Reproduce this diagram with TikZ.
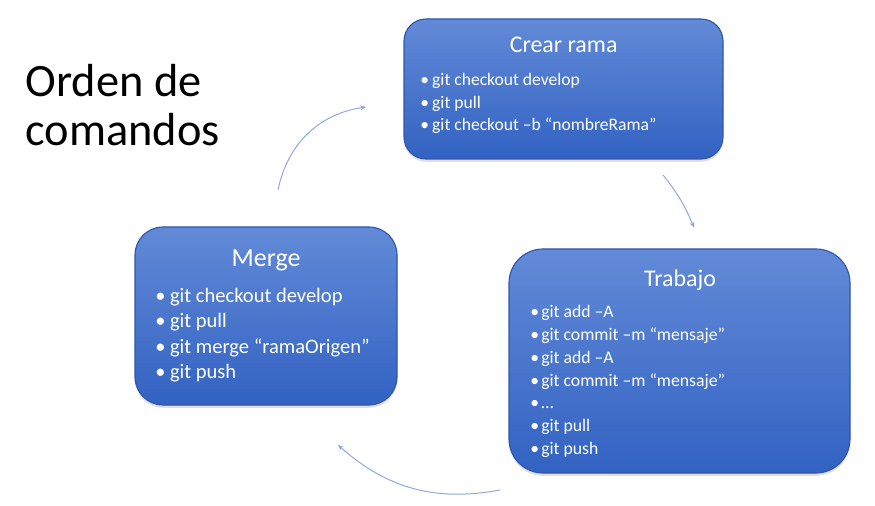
\documentclass[tikz,border=0pt]{standalone}
\usepackage{fontspec}
\setmainfont{Carlito}
\usetikzlibrary{arrows.meta, shadows}
\definecolor{boxtop}{RGB}{98,138,215}
\definecolor{boxbot}{RGB}{50,98,194}
\definecolor{boxedge}{RGB}{46,86,172}
\definecolor{arcblue}{RGB}{140,168,222}
\newcommand{\bul}[1]{\makebox[#1][l]{\textbullet}}

\begin{document}
\begin{tikzpicture}[
  stage/.style={rectangle, draw=boxedge, line width=0.8pt, top color=boxtop, bottom color=boxbot, rounded corners=#1, inner sep=0pt, drop shadow={opacity=0.25, shadow xshift=0pt, shadow yshift=-2pt}},
  stage/.default=0.6cm,
  head/.style={anchor=base, text=white, inner sep=0pt, font=\fontsize{17}{20}\selectfont},
  lst/.style={anchor=base west, align=left, text=white, inner sep=0pt},
  cyc/.style={-{Stealth[length=4pt, width=3.5pt]}, draw=arcblue, line width=0.7pt},
]
\useasboundingbox (0,0) rectangle (21.875,-12.65);

% titulo (base = ultima linea)
\node[anchor=base west, align=left, inner sep=0pt, font=\fontsize{33}{34.8}\selectfont] (titulo) at (0.63,-3.6425) {Orden de\\comandos};

% cajas
\node[stage=0.55cm, minimum width=7.975cm, minimum height=3.5cm] (crear) at (14.0875,-2.225) {};
\node[stage=0.7cm,  minimum width=6.55cm,  minimum height=4.45cm] (merge) at (6.65,-7.9) {};
\node[stage=0.85cm, minimum width=8.525cm, minimum height=5.6cm] (trabajo) at (16.9875,-9.025) {};

\node[head] (crearT) at (14.09,-1.325) {Crear rama};
\node[head, font=\fontsize{18.5}{22}\selectfont] (mergeT) at (6.65,-6.66) {Merge};
\node[head] (trabajoT) at (17.0,-7.1675) {Trabajo};

\node[lst, font=\fontsize{12.5}{16.35}\selectfont] (crearL) at (10.5,-3.275)
  {\bul{8.5pt}git checkout develop\\ \bul{8.5pt}git pull\\ \bul{8.5pt}git checkout –b “nombreRama”};
\node[lst, font=\fontsize{14.6}{18.1}\selectfont] (mergeL) at (3.875,-9.4625)
  {\bul{10.5pt}git checkout develop\\ \bul{10.5pt}git pull\\ \bul{10.5pt}git merge “ramaOrigen”\\ \bul{10.5pt}git push};
\node[lst, font=\fontsize{12.6}{16.15}\selectfont] (trabajoL) at (13.25,-11.355)
  {\bul{7.8pt}git add –A\\ \bul{7.8pt}git commit –m “mensaje”\\ \bul{7.8pt}git add –A\\ \bul{7.8pt}git commit –m “mensaje”\\ \bul{7.8pt}…\\ \bul{7.8pt}git pull\\ \bul{7.8pt}git push};

% ciclo
\coordinate (c1) at (6.95,-4.75);
\coordinate (c2) at (9.15,-2.675);
\coordinate (c3) at (16.575,-4.375);
\coordinate (c4) at (17.35,-5.69);
\coordinate (c5) at (12.5,-12.25);
\coordinate (c6) at (8.45,-11.125);

\draw[cyc] (c1) to[bend left=35] (c2);
\draw[cyc] (c3) to[bend left=8] (c4);
\draw[cyc] (c5) to[bend left=26] (c6);
\end{tikzpicture}
\end{document}
